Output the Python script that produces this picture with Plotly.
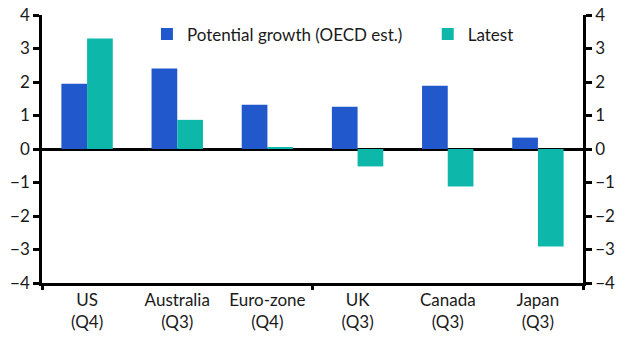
import plotly.graph_objects as go

categories = ["US<br>(Q4)", "Australia<br>(Q3)", "Euro-zone<br>(Q4)", "UK<br>(Q3)", "Canada<br>(Q3)", "Japan<br>(Q3)"]
potential = [1.95, 2.4, 1.32, 1.26, 1.89, 0.34]
latest = [3.3, 0.87, 0.06, -0.52, -1.12, -2.91]
series_names = ["Potential growth (OECD est.)", "Latest"]
y_ticks = [-4, -3, -2, -1, 0, 1, 2, 3, 4]

BLUE = "#2159CC"
TEAL = "#0DB8AB"
FONT = "Lato"
FS = 17

fig = go.Figure()
fig.add_trace(go.Bar(x=categories, y=potential, name=series_names[0], marker_color=BLUE,
                     marker_line_width=0, legend="legend"))
fig.add_trace(go.Bar(x=categories, y=latest, name=series_names[1], marker_color=TEAL,
                     marker_line_width=0, legend="legend2"))

leg_common = dict(orientation="h", y=0.995, xanchor="left", yanchor="top",
                  bgcolor="rgba(0,0,0,0)", font=dict(size=FS))

fig.update_layout(
    width=629, height=349,
    margin=dict(l=42, r=46, t=15, b=66, autoexpand=False),
    plot_bgcolor="white", paper_bgcolor="white",
    barmode="group", bargap=0.43, bargroupgap=0,
    font=dict(family=FONT, size=FS, color="#1a1a1a"),
    showlegend=True,
    legend=dict(x=0.194, **leg_common),
    legend2=dict(x=0.713, **leg_common),
    xaxis=dict(showline=True, linecolor="black", linewidth=2.5, ticks="",
               showgrid=False, tickfont=dict(size=FS), zeroline=False, automargin=False),
    xaxis2=dict(overlaying="x", anchor="y", side="bottom", range=[-0.5, 5.5],
                tickvals=[-0.5, 2.5, 5.5], ticks="outside", ticklen=6, tickwidth=2.5,
                tickcolor="black", showticklabels=False, showgrid=False, zeroline=False,
                showline=False, automargin=False),
    yaxis=dict(range=[-4, 4], tickvals=y_ticks, ticks="outside", ticklen=6, tickwidth=2.5,
               tickcolor="black", showline=True, linecolor="black", linewidth=2.5,
               showgrid=False, zeroline=True, zerolinecolor="black", zerolinewidth=2.5,
               tickfont=dict(size=FS), automargin=False),
    yaxis2=dict(range=[-4, 4], tickvals=y_ticks, ticks="outside", ticklen=6, tickwidth=2.5,
                tickcolor="black", showline=True, linecolor="black", linewidth=2.5,
                showgrid=False, zeroline=False, overlaying="y", side="right", anchor="x",
                tickfont=dict(size=FS), automargin=False),
)
fig.add_trace(go.Scatter(x=[None], y=[None], xaxis="x2", yaxis="y2", showlegend=False, hoverinfo="skip"))

fig.write_html("out.html")
